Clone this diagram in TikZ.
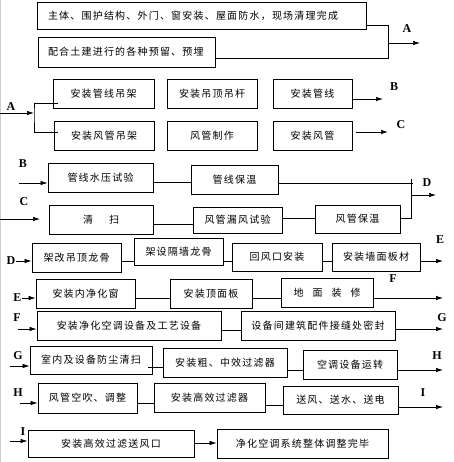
\documentclass[tikz,border=0pt]{standalone}
\usepackage{fontspec}
\setmainfont{Liberation Serif}
\newfontfamily\cjk[LetterSpace=12]{Noto Sans CJK SC}
\usetikzlibrary{arrows.meta}

\begin{document}
\begin{tikzpicture}[x=1pt,y=-1pt,
	box/.style={draw,line width=0.9pt,inner sep=0,font=\cjk\fontsize{10}{12}\selectfont},
	wh/.style 2 args={minimum width=#1,minimum height=#2},
	link/.style={line width=0.7pt},
	go/.style={link,-{Latex[length=7pt,width=4.5pt]}},
	tag/.style={font=\bfseries\fontsize{12}{14}\selectfont,inner sep=0}]
\useasboundingbox (0,0) rectangle (453,462);
\draw[gray!40,line width=1pt] (0.5,0) -- (0.5,462);

\node[box,wh={329}{27},text width=307,inner xsep=11pt,align=left] (t1) at (201.5,15.5) {主体、围护结构、外门、窗安装、屋面防水，现场清理完成};
\node[box,wh={177}{30},text width=157,inner xsep=10pt,align=left] (t2) at (126.5,52) {配合土建进行的各种预留、预埋};
\coordinate (ja) at (388,43);
\coordinate (ea) at (420,43);
\draw[link] ([yshift=4pt]t1.south east) -| (ja);
\draw[link] ([yshift=-6pt]t2.east) -| (ja);
\draw[go] (ja) -- (ea);
\node[tag] (la) at (407,29) {A};

\node[box,wh={101}{29}] (b1) at (103.5,93.5) {安装管线吊架};
\node[box,wh={90}{29}] (b2) at (212,93.5) {安装吊顶吊杆};
\node[box,wh={79}{29}] (b3) at (312.5,93.5) {安装管线};
\node[box,wh={100}{29}] (c1) at (104,135.5) {安装风管吊架};
\node[box,wh={90}{29}] (c2) at (212,135.5) {风管制作};
\node[box,wh={79}{29}] (c3) at (312.5,135.5) {安装风管};
\node[tag] (la2) at (11,107) {A};
\coordinate (sa) at (0,113);
\coordinate (jb) at (34,113);
\draw[go] (sa) -- (jb);
\draw[link] ([xshift=5pt,yshift=-9.5pt]b1.west) -| (jb) |- ([xshift=4pt,yshift=3.5pt]c1.west);
\coordinate (eb) at (383,99);
\draw[go] (b3.east |- eb) -- (eb);
\node[tag] (lb) at (394,87) {B};
\coordinate (sc) at (356,132);
\coordinate (ec) at (388,132);
\draw[go] (sc) -- (ec);
\node[tag] (lc) at (401,125) {C};

\node[tag] (lb2) at (23,164) {B};
\coordinate (sb) at (19,183);
\node[box,wh={105}{29}] (d1) at (100.5,177.5) {管线水压试验};
\node[box,wh={87}{29}] (d2) at (234.5,179.5) {管线保温};
\draw[go] (sb) -- (d1.west |- sb);
\draw[link] (d1.east |- 0,182) -- (d2.west |- 0,182);
\coordinate (td) at (413,183);
\draw[link] (d2.east |- td) -- (td);
\node[tag] (lc2) at (24,202) {C};
\coordinate (sc2) at (0,219);
\coordinate (ec2) at (40,219);
\draw[go] (sc2) -- (ec2);
\node[box,wh={104}{29}] (e1) at (101,219.5) {清\hspace{16pt}扫};
\node[box,wh={89}{26}] (e2) at (237.5,220) {风管漏风试验};
\node[box,wh={85}{28}] (e3) at (357.5,219) {风管保温};
\draw[link] (e1.east |- 0,224) -- (e2.west |- 0,224);
\draw[link] (e2.east |- 0,218) -- (e3.west |- 0,218);
\coordinate (kd) at (411,179);
\coordinate (jd) at (411,195);
\coordinate (ed) at (436,195);
\draw[link] (e3.east |- 0,218) -| (kd);
\draw[go] (jd) -- (ed);
\node[tag] (ld) at (427,183) {D};

\node[tag] (ld2) at (11,261) {D};
\node[box,wh={89}{29}] (f1) at (76.5,257.5) {架改吊顶龙骨};
\node[box,wh={89}{27}] (f2) at (178.5,251.5) {架设隔墙龙骨};
\node[box,wh={90}{28}] (f3) at (277,257) {回风口安装};
\node[box,wh={88}{28}] (f4) at (376,257) {安装墙面板材};
\draw[go] (ld2.east) -- (f1.west |- ld2);
\foreach \a/\b in {f1/f2,f2/f3,f3/f4}
	\draw[link] (\a.east |- 0,261) -- (\b.west |- 0,261);
\coordinate (ee) at (443,261);
\draw[go] (f4.east |- ee) -- (ee);
\node[tag] (le) at (440,240) {E};

\node[tag] (le2) at (17.5,298) {E};
\node[box,wh={99}{29}] (g1) at (85.5,293.5) {安装内净化窗};
\node[box,wh={82}{29}] (g2) at (211,293.5) {安装顶面板};
\node[box,wh={92}{29}] (g3) at (327,292.5) {地\hspace{9pt}面\hspace{9pt}装\hspace{9pt}修};
\draw[go] (le2.east) -- (g1.west |- le2);
\foreach \a/\b in {g1/g2,g2/g3}
	\draw[link] (\a.east |- 0,298) -- (\b.west |- 0,298);
\coordinate (ef) at (443,298);
\draw[go] (g3.east |- ef) -- (ef);
\node[tag] (lf) at (393,279) {F};

\node[tag] (lf2) at (17,318) {F};
\coordinate (sf) at (18,329);
\node[box,wh={184}{29}] (h1) at (129,325.5) {安装净化空调设备及工艺设备};
\node[box,wh={154}{29}] (h2) at (318,325.5) {设备间建筑配件接缝处密封};
\draw[go] (sf) -- (h1.west |- sf);
\draw[link] (h1.east |- 0,330) -- (h2.west |- 0,330);
\coordinate (eg) at (443,329);
\draw[go] (h2.east |- eg) -- (eg);
\node[tag] (lg) at (442,318) {G};

\node[tag] (lg2) at (18,356) {G};
\coordinate (sg) at (10,366);
\node[box,wh={122}{28}] (i1) at (91,360) {室内及设备防尘清扫};
\node[box,wh={124}{29}] (i2) at (225,362.5) {安装粗、中效过滤器};
\node[box,wh={94}{29}] (i3) at (350,364.5) {空调设备运转};
\draw[go] (sg) -- (i1.west |- sg);
\draw[link] ([xshift=-4pt]i1.east |- 0,367) -- (i2.west |- 0,367);
\draw[link] (i2.east |- 0,370) -- (i3.west |- 0,370);
\coordinate (eh) at (443,370);
\draw[go] (i3.east |- eh) -- (eh);
\node[tag] (lh) at (437,356) {H};

\node[tag] (lh2) at (18,393) {H};
\coordinate (sh) at (20,403);
\node[box,wh={99}{30}] (j1) at (87.5,398) {风管空吹、调整};
\node[box,wh={111}{29}] (j2) at (209.5,397.5) {安装高效过滤器};
\node[box,wh={115}{28}] (j3) at (340.5,400) {送风、送水、送电};
\draw[go] (sh) -- (j1.west |- sh);
\draw[link] (j1.east |- 0,403) -- (j2.west |- 0,403);
\draw[link] (j2.east |- 0,405) -- (j3.west |- 0,405);
\coordinate (ei) at (443,407);
\draw[go] (j3.east |- ei) -- (ei);
\node[tag] (li) at (423,393) {I};

\node[tag] (li2) at (23,432) {I};
\coordinate (si) at (10,441);
\node[box,wh={166}{27}] (k1) at (111,443.5) {安装高效过滤送风口};
\node[box,wh={171}{29}] (k2) at (302.5,443.5) {净化空调系统整体调整完毕};
\draw[go] (si) -- (k1.west |- si);
\draw[go] (k1.east |- 0,443) -- (k2.west |- 0,443);
\end{tikzpicture}
\end{document}
